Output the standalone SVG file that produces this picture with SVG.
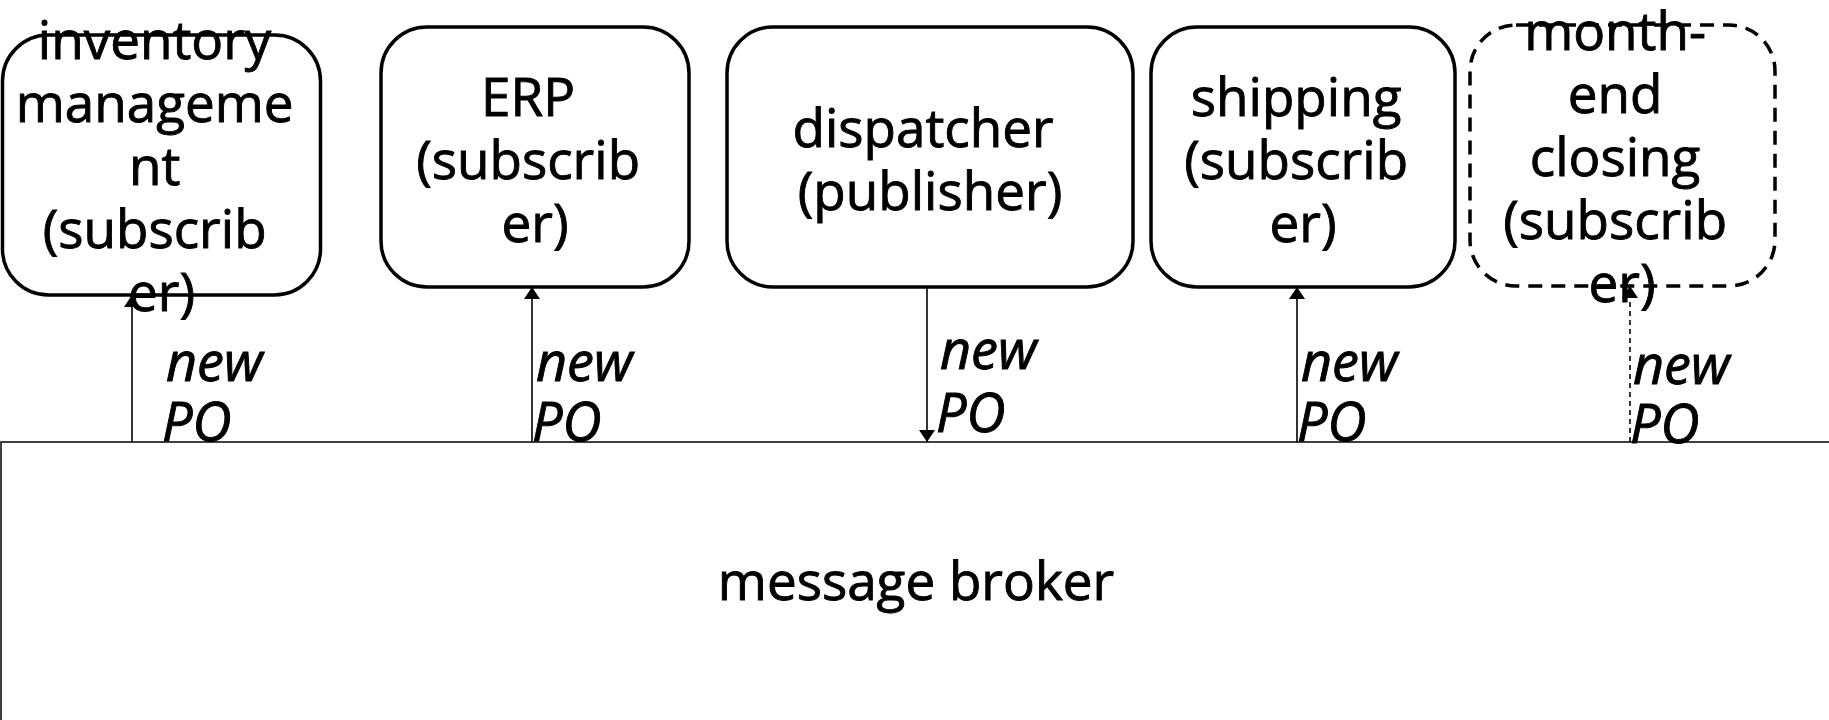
<svg xmlns="http://www.w3.org/2000/svg" width="1829" height="720" viewBox="0 0 1829 720">
  <style>
    .box { fill: #ffffff; stroke: #000000; stroke-width: 3.5; }
    .optional { stroke-dasharray: 14 9; }
    .broker { fill: #ffffff; stroke: #000000; stroke-width: 1.5; }
    .label { font-family: "Open Sans", "DejaVu Sans", sans-serif; font-size: 53px; fill: #000000; stroke: #000000; stroke-width: 0.9; text-anchor: middle; }
    .msg { font-family: "Open Sans", "DejaVu Sans", sans-serif; font-size: 54px; font-style: italic; fill: #000000; stroke: #000000; stroke-width: 0.9; }
    .wire { stroke: #000000; stroke-width: 1.6; fill: none; }
    .wire-dashed { stroke-dasharray: 5 4; }
  </style>
  <defs>
    <marker id="arrow" viewBox="0 0 12 16" refX="12" refY="8" markerWidth="12" markerHeight="16" markerUnits="userSpaceOnUse" orient="auto">
      <path d="M0,0 L12,8 L0,16 Z" fill="#000000"/>
    </marker>
  </defs>

  <!-- message broker (extends past the right and bottom edges) -->
  <g id="broker">
    <rect class="broker" x="1" y="442" width="1850" height="300"/>
    <text class="label" x="916" y="600">message broker</text>
  </g>

  <g id="inventory">
    <rect class="box" x="2.5" y="35" width="318" height="260" rx="46" ry="46"/>
    <text class="label">
      <tspan x="161.5" y="59">inventory</tspan>
      <tspan x="161.5" y="122">manageme</tspan>
      <tspan x="161.5" y="185">nt</tspan>
      <tspan x="161.5" y="248">(subscrib</tspan>
      <tspan x="161.5" y="311">er)</tspan>
    </text>
  </g>

  <g id="erp">
    <rect class="box" x="381" y="27" width="308" height="260" rx="46" ry="46"/>
    <text class="label">
      <tspan x="535" y="116">ERP</tspan>
      <tspan x="535" y="179">(subscrib</tspan>
      <tspan x="535" y="242">er)</tspan>
    </text>
  </g>

  <g id="dispatcher">
    <rect class="box" x="727" y="27" width="406" height="260" rx="46" ry="46"/>
    <text class="label">
      <tspan x="930" y="147">dispatcher</tspan>
      <tspan x="930" y="210">(publisher)</tspan>
    </text>
  </g>

  <g id="shipping">
    <rect class="box" x="1151" y="27" width="304" height="260" rx="46" ry="46"/>
    <text class="label">
      <tspan x="1303" y="116">shipping</tspan>
      <tspan x="1303" y="179">(subscrib</tspan>
      <tspan x="1303" y="242">er)</tspan>
    </text>
  </g>

  <g id="month-end">
    <rect class="box optional" x="1470" y="25" width="305" height="261" rx="46" ry="46"/>
    <text class="label">
      <tspan x="1622" y="50">month-</tspan>
      <tspan x="1622" y="113">end</tspan>
      <tspan x="1622" y="176">closing</tspan>
      <tspan x="1622" y="239">(subscrib</tspan>
      <tspan x="1622" y="302">er)</tspan>
    </text>
  </g>

  <!-- connectors: new PO messages through the broker -->
  <g id="connectors">
    <line class="wire" x1="132" y1="442" x2="132" y2="295" marker-end="url(#arrow)"/>
    <text class="msg"><tspan x="166" y="381">new</tspan><tspan x="162" y="441">PO</tspan></text>

    <line class="wire" x1="532" y1="442" x2="532" y2="287" marker-end="url(#arrow)"/>
    <text class="msg"><tspan x="536" y="381">new</tspan><tspan x="532" y="441">PO</tspan></text>

    <line class="wire" x1="927" y1="287" x2="927" y2="442" marker-end="url(#arrow)"/>
    <text class="msg"><tspan x="940" y="369">new</tspan><tspan x="936" y="432">PO</tspan></text>

    <line class="wire" x1="1297" y1="442" x2="1297" y2="287" marker-end="url(#arrow)"/>
    <text class="msg"><tspan x="1301" y="381">new</tspan><tspan x="1297" y="441">PO</tspan></text>

    <line class="wire wire-dashed" x1="1630" y1="442" x2="1630" y2="286" marker-end="url(#arrow)"/>
    <text class="msg"><tspan x="1633" y="384">new</tspan><tspan x="1630" y="443">PO</tspan></text>
  </g>
</svg>
